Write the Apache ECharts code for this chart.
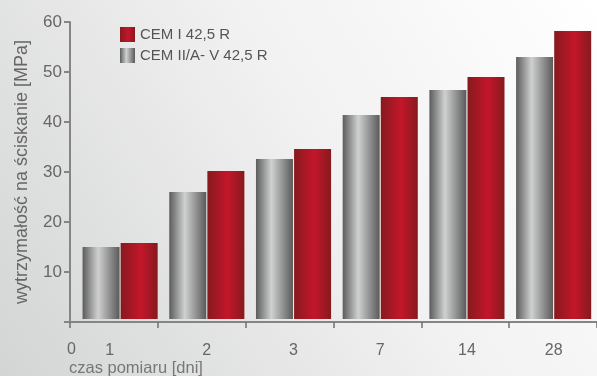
<!DOCTYPE html>
<html><head><meta charset="utf-8">
<script src="https://cdn.jsdelivr.net/npm/echarts@6/dist/echarts.min.js"></script>
<style>html,body{margin:0;padding:0;}#c{width:597px;height:376px;}</style>
</head><body><div id="c"></div>
<script>
const categories = ['1','2','3','7','14','28'];
const seriesNames = ['CEM II/A- V 42,5 R','CEM I 42,5 R'];
const cemII = [15.0, 26.0, 32.6, 41.4, 46.4, 53.0];
const cemI = [15.8, 30.2, 34.6, 45.0, 49.0, 58.2];
const yTicks = [0,10,20,30,40,50,60];

const FONT = '"Liberation Sans", Arial, sans-serif';
const grayGrad = {type:'linear',x:0,y:0,x2:1,y2:0,colorStops:[
  {offset:0,color:'#5c5c5c'},{offset:0.42,color:'#cfd0d0'},{offset:1,color:'#5a5a5a'}]};
const redGrad = {type:'linear',x:0,y:0,x2:1,y2:0,colorStops:[
  {offset:0,color:'#861a1d'},{offset:0.55,color:'#c4162b'},{offset:1,color:'#861a1d'}]};

const chart = echarts.init(document.getElementById('c'));
chart.setOption({
  animation:false,
  backgroundColor:{type:'linear',x:1,y:0,x2:0,y2:1,colorStops:[
    {offset:0,color:'#ffffff'},{offset:0.45,color:'#f1f1f1'},{offset:1,color:'#d3d4d4'}]},
  textStyle:{fontFamily:FONT},
  legend:{
    data:[seriesNames[1],seriesNames[0]],
    orient:'vertical', left:115, top:22, itemWidth:15, itemHeight:15, itemGap:6,
    icon:'rect',
    textStyle:{fontSize:15,color:'#555',fontFamily:FONT}
  },
  grid:[
    {left:70, right:-3, top:22, bottom:54},
    {left:76.75, right:-4.75, top:22, bottom:57}
  ],
  xAxis:[
    {type:'category', gridIndex:0, data:categories, boundaryGap:true,
      axisLine:{lineStyle:{color:'#858585',width:2}},
      axisTick:{show:true,length:6,alignWithLabel:false,lineStyle:{color:'#707070',width:1.5}},
      axisLabel:{show:false}},
    {type:'category', gridIndex:1, data:categories.map((c,i)=> i===0 ? {value:c, textStyle:{padding:[0,21,0,0]}} : c),
      axisLine:{show:false}, axisTick:{show:false},
      axisLabel:{margin:24,fontSize:16,color:'#666',fontFamily:FONT}}
  ],
  yAxis:[
    {type:'value', gridIndex:0, min:yTicks[0], max:yTicks[yTicks.length-1], interval:10,
      name:'wytrzymałość na ściskanie [MPa]', nameLocation:'middle', nameGap:39, nameRotate:90,
      nameTextStyle:{fontSize:18,color:'#666',fontFamily:FONT},
      axisLine:{show:true,lineStyle:{color:'#858585',width:2}},
      axisTick:{show:true,length:6,lineStyle:{color:'#858585',width:2}},
      axisLabel:{margin:8,fontSize:17,color:'#666',fontFamily:FONT,formatter:v=>v===0?'':String(v)},
      splitLine:{show:false}},
    {type:'value', gridIndex:1, min:0.6, max:60, show:false, splitLine:{show:false}}
  ],
  graphic:[
    {type:'text', left:67, top:342, style:{text:'0',fontSize:16,fill:'#666',fontFamily:FONT}},
    {type:'text', left:69, top:360, style:{text:'czas pomiaru [dni]',fontSize:16.5,fill:'#777',fontFamily:FONT}}
  ],
  series:[
    {name:seriesNames[0], type:'bar', xAxisIndex:1, yAxisIndex:1, data:cemII,
      barWidth:37, barGap:'3%', itemStyle:{color:grayGrad}},
    {name:seriesNames[1], type:'bar', xAxisIndex:1, yAxisIndex:1, data:cemI,
      barWidth:37, barGap:'3%', itemStyle:{color:redGrad}}
  ]
});
</script></body></html>
